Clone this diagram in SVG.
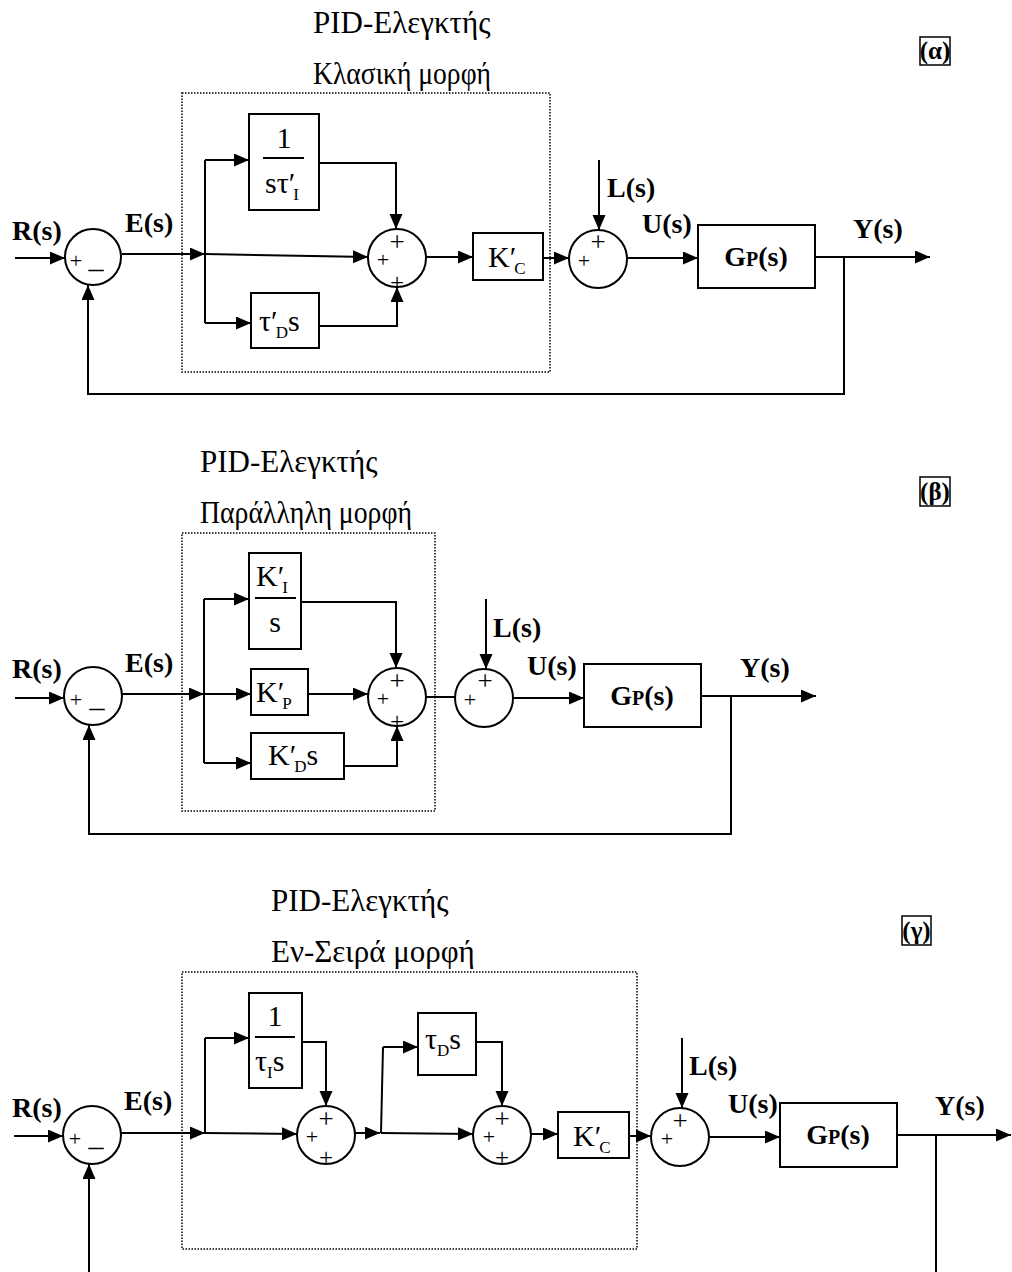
<svg xmlns="http://www.w3.org/2000/svg" width="1012" height="1272" viewBox="0 0 1012 1272">
<style>
.ln{stroke:#000;stroke-width:2;fill:none}
.ar{stroke:#000;stroke-width:2;fill:none;marker-end:url(#ah)}
.bx{fill:#fff;stroke:#000;stroke-width:2}
.sm{fill:#fff;stroke:#000;stroke-width:2}
.dot{fill:none;stroke:#000;stroke-width:1.5;stroke-dasharray:1.5 1.5}
.b{font-family:"Liberation Serif",serif;font-weight:bold;font-size:28px}
.t{font-family:"Liberation Serif",serif;font-size:31px}
.m{font-family:"Liberation Serif",serif;font-size:30px}
text.pt{font-family:"Liberation Serif",serif;text-anchor:middle;font-size:27px}
text.pl{font-family:"Liberation Serif",serif;text-anchor:middle;font-size:22px}
text.pb{font-family:"Liberation Serif",serif;text-anchor:middle;font-size:25px}
text.mi{font-family:"Liberation Serif",serif;text-anchor:middle;font-size:30px}
.s{font-size:17px}
.lb{font-family:"Liberation Serif",serif;font-weight:bold;font-size:25px;text-anchor:middle}
</style>
<defs>
<marker id="ah" markerUnits="userSpaceOnUse" markerWidth="16" markerHeight="14" refX="15" refY="6.5" orient="auto">
<path d="M0,0 L15,6.5 L0,13 z" fill="#000"/>
</marker>
</defs>

<!-- ===== (α) ===== -->
<g id="alpha-title">
<text class="t" x="313" y="33">PID-Ελεγκτής</text>
<text class="t" x="313" y="84" textLength="178" lengthAdjust="spacingAndGlyphs">Κλασική μορφή</text>
<rect x="920" y="37" width="30" height="28" fill="none" stroke="#000" stroke-width="1.5"/>
<text class="lb" x="935" y="59">(α)</text>
</g>
<rect class="dot" x="182" y="93" width="368" height="279"/>

<g id="a-connectors">
<line class="ar" x1="15" y1="258" x2="65" y2="258"/>
<line class="ar" x1="122" y1="254" x2="205" y2="254"/>
<polyline class="ln" points="205,160 205,323"/>
<line class="ar" x1="205" y1="160" x2="249" y2="160"/>
<line class="ar" x1="205" y1="254" x2="368" y2="257"/>
<line class="ar" x1="205" y1="323" x2="251" y2="323"/>
<polyline class="ar" points="319,163 396,163 396,229"/>
<polyline class="ar" points="319,326 397,326 397,287"/>
<line class="ar" x1="426" y1="257" x2="473" y2="257"/>
<line class="ar" x1="543" y1="258" x2="569" y2="258"/>
<line class="ar" x1="599" y1="160" x2="599" y2="230"/>
<line class="ar" x1="627" y1="258" x2="698" y2="258"/>
<line class="ar" x1="815" y1="257" x2="930" y2="257"/>
<polyline class="ar" points="844,257 844,394 88,394 88,285"/>
</g>

<g id="a-sum1"><circle class="sm" cx="93" cy="257" r="28"/>
<text class="pl" x="76" y="268">+</text><text class="mi" x="96" y="268">_</text></g>
<text class="b" x="12" y="240">R(s)</text>
<text class="b" x="125" y="232">E(s)</text>

<g id="a-int"><rect class="bx" x="249" y="114" width="70" height="96"/>
<text class="m" x="284" y="148" text-anchor="middle">1</text>
<line class="ln" x1="263" y1="158" x2="304" y2="158" stroke-width="1.5"/>
<text class="m" x="265" y="193">sτ′<tspan class="s" dx="-2" dy="7">I</tspan></text></g>

<g id="a-der"><rect class="bx" x="251" y="293" width="68" height="55"/>
<text class="m" x="259" y="331">τ′<tspan class="s" dx="-2" dy="7">D</tspan><tspan dy="-7">s</tspan></text></g>

<g id="a-sum2"><circle class="sm" cx="397" cy="258" r="29"/>
<text class="pt" x="397" y="251">+</text>
<text class="pl" x="383" y="267">+</text>
<text class="pb" x="397" y="291">+</text></g>

<g id="a-kc"><rect class="bx" x="473" y="233" width="70" height="47"/>
<text class="m" x="488" y="267">K′<tspan class="s" dx="-2" dy="7">C</tspan></text></g>

<g id="a-sum3"><circle class="sm" cx="598" cy="259" r="29"/>
<text class="pt" x="598" y="251">+</text>
<text class="pl" x="584" y="268">+</text></g>
<text class="b" x="607" y="197">L(s)</text>
<text class="b" x="642" y="233">U(s)</text>

<g id="a-gp"><rect class="bx" x="698" y="225" width="117" height="63"/>
<text class="b" x="756" y="266" text-anchor="middle">G<tspan font-size="20">P</tspan>(s)</text></g>
<text class="b" x="853" y="238">Y(s)</text>

<!-- ===== (β) ===== -->
<g id="beta-title">
<text class="t" x="200" y="472">PID-Ελεγκτής</text>
<text class="t" x="200" y="523" textLength="212" lengthAdjust="spacingAndGlyphs">Παράλληλη μορφή</text>
<rect x="920" y="477" width="30" height="29" fill="none" stroke="#000" stroke-width="1.5"/>
<text class="lb" x="935" y="500">(β)</text>
</g>
<rect class="dot" x="182" y="533" width="253" height="278"/>

<g id="b-connectors">
<line class="ar" x1="15" y1="698" x2="64" y2="698"/>
<line class="ar" x1="122" y1="694" x2="204" y2="694"/>
<polyline class="ln" points="204,599 204,763"/>
<line class="ar" x1="204" y1="599" x2="249" y2="599"/>
<line class="ar" x1="204" y1="694" x2="251" y2="694"/>
<line class="ar" x1="204" y1="763" x2="251" y2="763"/>
<polyline class="ar" points="299,602 396,602 396,668"/>
<line class="ar" x1="308" y1="694" x2="368" y2="694"/>
<polyline class="ar" points="344,766 397,766 397,726"/>
<line class="ln" x1="426" y1="697" x2="455" y2="697"/>
<line class="ar" x1="486" y1="599" x2="486" y2="669"/>
<line class="ar" x1="513" y1="698" x2="584" y2="698"/>
<line class="ar" x1="701" y1="696" x2="816" y2="696"/>
<polyline class="ar" points="731,696 731,834 89,834 89,725"/>
</g>

<g id="b-sum1"><circle class="sm" cx="93" cy="696" r="29"/>
<text class="pl" x="76" y="707">+</text><text class="mi" x="97" y="707">_</text></g>
<text class="b" x="12" y="678">R(s)</text>
<text class="b" x="125" y="672">E(s)</text>

<g id="b-ki"><rect class="bx" x="249" y="553" width="52" height="96"/>
<text class="m" x="256" y="586">K′<tspan class="s" dx="-2" dy="7">I</tspan></text>
<line class="ln" x1="255" y1="598" x2="296" y2="598" stroke-width="1.5"/>
<text class="m" x="275" y="632" text-anchor="middle">s</text></g>

<g id="b-kp"><rect class="bx" x="251" y="669" width="57" height="46"/>
<text class="m" x="256" y="702">K′<tspan class="s" dx="-2" dy="7">P</tspan></text></g>

<g id="b-kd"><rect class="bx" x="251" y="733" width="93" height="46"/>
<text class="m" x="268" y="765">K′<tspan class="s" dx="-2" dy="7">D</tspan><tspan dy="-7">s</tspan></text></g>

<g id="b-sum2"><circle class="sm" cx="397" cy="697" r="29"/>
<text class="pt" x="397" y="690">+</text>
<text class="pl" x="383" y="706">+</text>
<text class="pb" x="397" y="730">+</text></g>

<g id="b-sum3"><circle class="sm" cx="484" cy="698" r="29"/>
<text class="pt" x="485" y="690">+</text>
<text class="pl" x="470" y="707">+</text></g>
<text class="b" x="493" y="637">L(s)</text>
<text class="b" x="527" y="675">U(s)</text>

<g id="b-gp"><rect class="bx" x="584" y="664" width="117" height="63"/>
<text class="b" x="642" y="705" text-anchor="middle">G<tspan font-size="20">P</tspan>(s)</text></g>
<text class="b" x="740" y="677">Y(s)</text>

<!-- ===== (γ) ===== -->
<g id="gamma-title">
<text class="t" x="271" y="911">PID-Ελεγκτής</text>
<text class="t" x="271" y="962">Εν-Σειρά μορφή</text>
<rect x="902" y="916" width="29" height="29" fill="none" stroke="#000" stroke-width="1.5"/>
<text class="lb" x="916.5" y="939">(γ)</text>
</g>
<rect class="dot" x="182" y="972" width="455" height="277"/>

<g id="c-connectors">
<line class="ar" x1="14" y1="1136" x2="63" y2="1136"/>
<line class="ar" x1="121" y1="1133" x2="205" y2="1133"/>
<polyline class="ln" points="205,1133 205,1038"/>
<line class="ar" x1="205" y1="1038" x2="249" y2="1038"/>
<line class="ar" x1="205" y1="1133" x2="297" y2="1134"/>
<polyline class="ar" points="302,1042 326,1042 326,1106"/>
<line class="ar" x1="355" y1="1133" x2="380" y2="1133"/>
<polyline class="ln" points="381,1133 383,1047"/>
<line class="ar" x1="383" y1="1047" x2="418" y2="1047"/>
<line class="ar" x1="381" y1="1133" x2="473" y2="1134"/>
<polyline class="ar" points="476,1042 502,1042 502,1106"/>
<line class="ar" x1="531" y1="1134" x2="558" y2="1134"/>
<line class="ar" x1="629" y1="1136" x2="651" y2="1136"/>
<line class="ar" x1="682" y1="1038" x2="682" y2="1108"/>
<line class="ar" x1="709" y1="1137" x2="780" y2="1137"/>
<line class="ar" x1="897" y1="1135" x2="1011" y2="1135"/>
<line class="ln" x1="936" y1="1135" x2="936" y2="1272"/>
<line class="ar" x1="89" y1="1272" x2="89" y2="1164"/>
</g>

<g id="c-sum1"><circle class="sm" cx="92" cy="1135" r="29"/>
<text class="pl" x="75" y="1146">+</text><text class="mi" x="96" y="1146">_</text></g>
<text class="b" x="12" y="1117">R(s)</text>
<text class="b" x="124" y="1110">E(s)</text>

<g id="c-int"><rect class="bx" x="249" y="993" width="53" height="95"/>
<text class="m" x="275" y="1026" text-anchor="middle">1</text>
<line class="ln" x1="255" y1="1037" x2="295" y2="1037" stroke-width="1.5"/>
<text class="m" x="255" y="1071">τ<tspan class="s" dy="7">I</tspan><tspan dy="-7">s</tspan></text></g>

<g id="c-sum2"><ellipse class="sm" cx="326" cy="1135" rx="29" ry="29"/>
<text class="pt" x="326" y="1128">+</text>
<text class="pl" x="312" y="1144">+</text>
<text class="pb" x="326" y="1166">+</text></g>

<g id="c-der"><rect class="bx" x="418" y="1013" width="58" height="62"/>
<text class="m" x="425" y="1049">τ<tspan class="s" dy="7">D</tspan><tspan dy="-7">s</tspan></text></g>

<g id="c-sum3"><ellipse class="sm" cx="502" cy="1135" rx="29" ry="29"/>
<text class="pt" x="502" y="1128">+</text>
<text class="pl" x="489" y="1144">+</text>
<text class="pb" x="502" y="1166">+</text></g>

<g id="c-kc"><rect class="bx" x="558" y="1112" width="71" height="46"/>
<text class="m" x="573" y="1146">K′<tspan class="s" dx="-2" dy="7">C</tspan></text></g>

<g id="c-sum4"><circle class="sm" cx="680" cy="1137" r="29"/>
<text class="pt" x="680" y="1130">+</text>
<text class="pl" x="667" y="1146">+</text></g>
<text class="b" x="689" y="1075">L(s)</text>
<text class="b" x="728" y="1113">U(s)</text>

<g id="c-gp"><rect class="bx" x="780" y="1103" width="117" height="64"/>
<text class="b" x="838" y="1144" text-anchor="middle">G<tspan font-size="20">P</tspan>(s)</text></g>
<text class="b" x="935" y="1115">Y(s)</text>
</svg>
